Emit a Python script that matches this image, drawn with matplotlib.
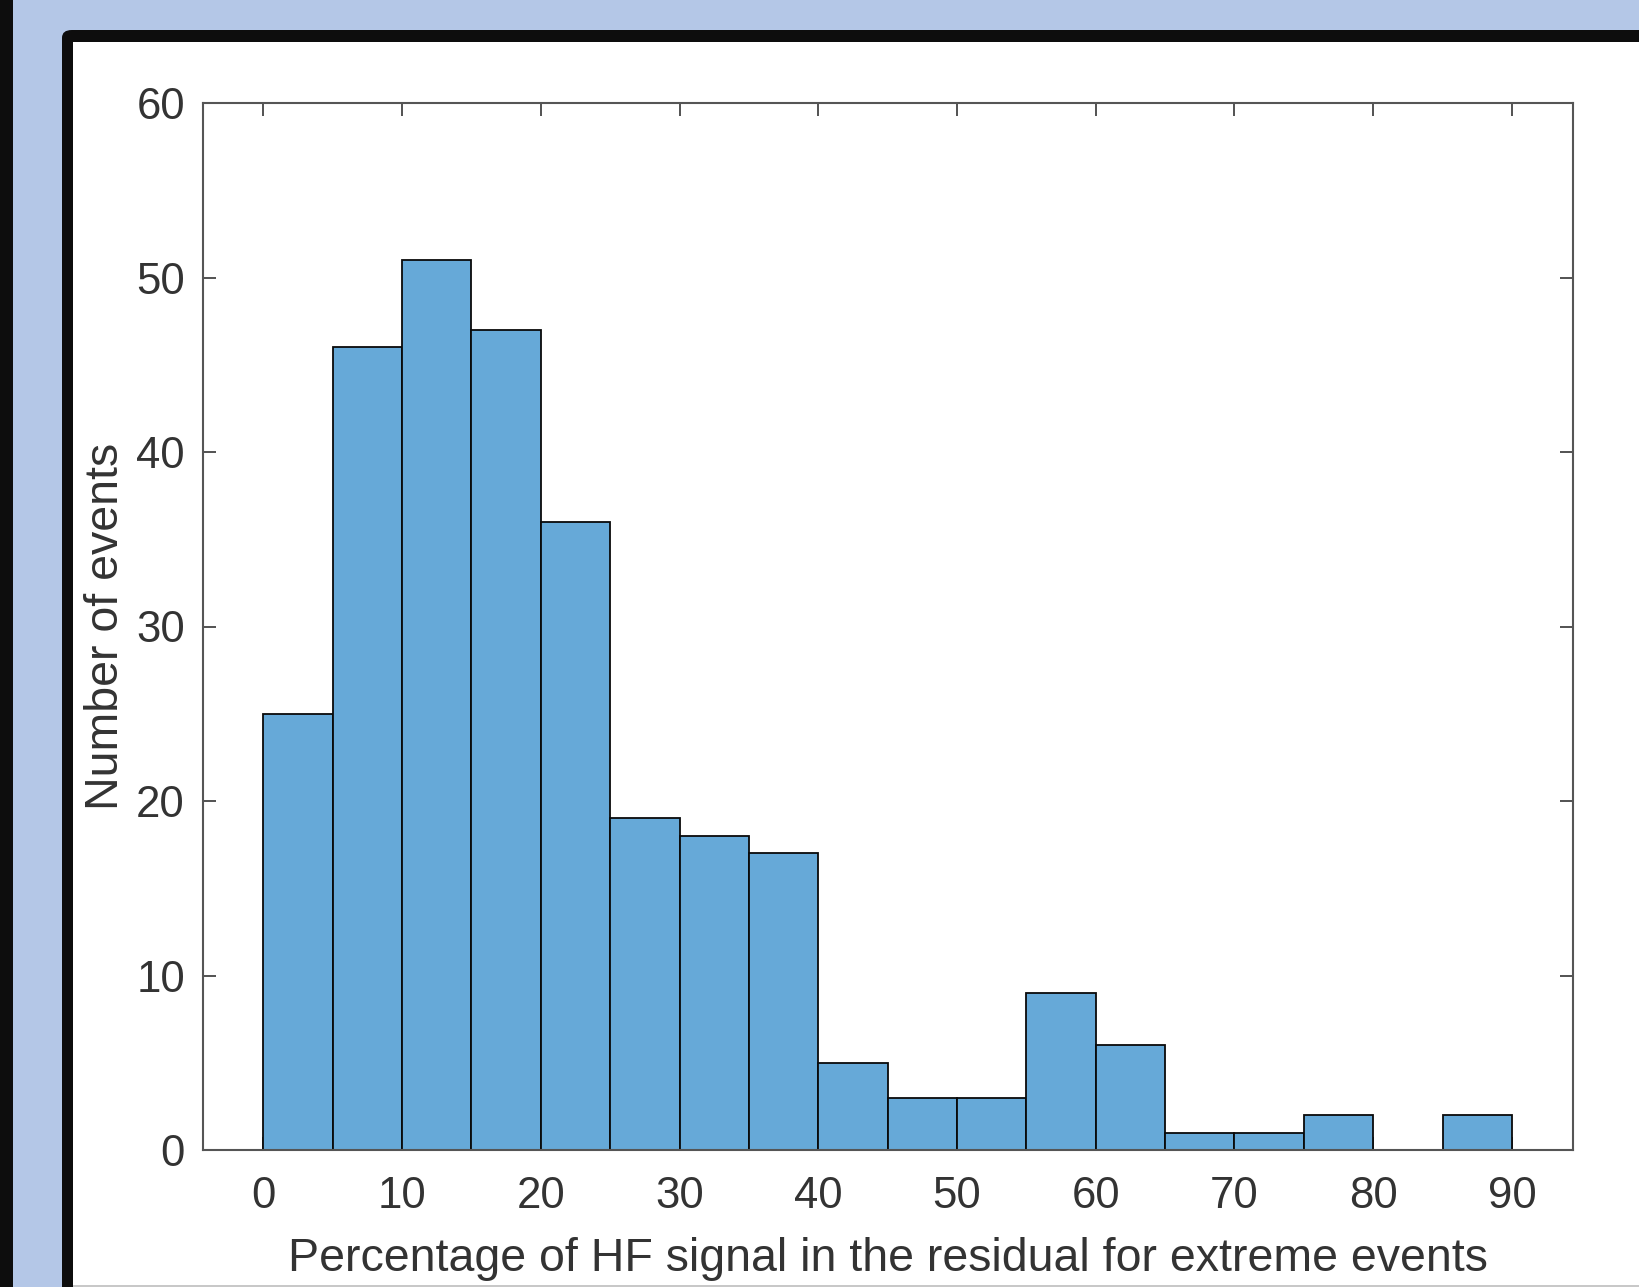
import matplotlib
matplotlib.use("Agg")
import matplotlib.pyplot as plt
from matplotlib.patches import Rectangle, FancyBboxPatch
import numpy as np

plt.rcParams['font.family'] = ['Liberation Sans', 'DejaVu Sans']

# histogram data (bin width 5)
bin_edges = [0, 5, 10, 15, 20, 25, 30, 35, 40, 45, 50, 55, 60, 65, 70, 75, 80, 85, 90]
counts = [25, 46, 51, 47, 36, 19, 18, 17, 5, 3, 3, 9, 6, 1, 1, 2, 0, 2]

xticks = [0, 10, 20, 30, 40, 50, 60, 70, 80, 90]
yticks = [0, 10, 20, 30, 40, 50, 60]

xlabel = "Percentage of HF signal in the residual for extreme events"
ylabel = "Number of events"

W, H = 1639, 1287
fig = plt.figure(figsize=(W / 100, H / 100), dpi=100)
fig.patch.set_facecolor('#b4c7e7')

def fx(px):
    return px / W

def fy(py):
    return 1 - py / H

# frame around the picture
fig.patches.append(Rectangle((0, 0), fx(13), 1, transform=fig.transFigure,
                             facecolor='#0d0d0d', edgecolor='none', zorder=-5))
fig.patches.append(FancyBboxPatch((fx(62), fy(1300)), fx(1700 - 62), fy(30) - fy(1300),
                                  boxstyle="round,pad=0,rounding_size=0.006",
                                  transform=fig.transFigure, facecolor='#0d0d0d',
                                  edgecolor='none', zorder=-5))
fig.patches.append(Rectangle((fx(73), fy(1285)), fx(1700 - 73), fy(42) - fy(1285),
                             transform=fig.transFigure, facecolor='white',
                             edgecolor='none', zorder=-4))
fig.patches.append(Rectangle((fx(73), 0), 1, fy(1285), transform=fig.transFigure,
                             facecolor='#c8c8c8', edgecolor='none', zorder=-4))

ax = fig.add_axes([fx(203), fy(1150), fx(1573 - 203), fy(103) - fy(1150)], zorder=2)
ax.set_facecolor('white')

bars = ax.bar(bin_edges[:-1], counts, width=5, align='edge', color='#66a9d8',
              edgecolor='#0a0a0a', linewidth=1.3, zorder=2)
for b, c in zip(bars, counts):
    if c == 0:
        b.set_visible(False)

ax.set_xlim(-4.35, 94.4)
ax.set_ylim(0, 60)
ax.set_xticks(xticks)
ax.set_yticks(yticks)

tc = '#333333'
ax.tick_params(axis='both', direction='in', length=9.5, width=1.3, color='#444444',
               labelsize=31.5, labelcolor=tc, top=True, right=True)
ax.tick_params(axis='x', pad=19)
ax.tick_params(axis='y', pad=13)
for s in ax.spines.values():
    s.set_color('#555555')
    s.set_linewidth(1.5)
    s.set_zorder(3)

ax.set_xlabel(xlabel, fontsize=33.5, color=tc, labelpad=14)
ax.set_ylabel(ylabel, fontsize=33.5, color=tc, labelpad=6)

fig.savefig("out.png", dpi=100, facecolor=fig.get_facecolor())
